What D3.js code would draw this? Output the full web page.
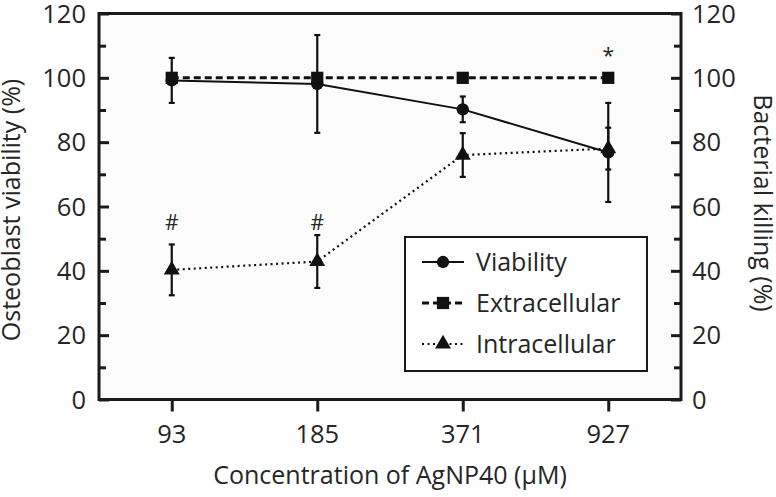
<!DOCTYPE html>
<html><head><meta charset="utf-8">
<script src="https://cdn.jsdelivr.net/npm/d3@7"></script>
<style>body{margin:0;background:#fff}svg{display:block}text{font-family:"Open Sans",sans-serif;fill:#262626}</style>
</head><body><svg id="c" width="776" height="497"></svg>
<script>
const categories = ["93","185","371","927"];
const viability = [99.2, 98.1, 90.2, 76.8];
const viabilityErr = [7.0, 15.2, 4.0, 15.4];
const extracellular = [100, 100, 100, 100];
const intracellular = [40.3, 42.9, 76.0, 78.0];
const intracellularErr = [7.9, 8.2, 6.8, 6.5];
const yTicks = [0,20,40,60,80,100,120];
const yMinorTicks = [10,30,50,70,90,110];
const annotations = [{cat:"93", v:55, t:"#"},{cat:"185", v:55, t:"#"},{cat:"927", v:107, t:"*"}];
const legendItems = ["Viability","Extracellular","Intracellular"];

const svg = d3.select("#c");
const L=99, R=681, T=13.5, B=399.5;
const x = d3.scalePoint().domain(categories).range([L,R]).padding(0.5);
const y = d3.scaleLinear().domain([0,120]).range([B,T]);
const y2 = d3.scaleLinear().domain([0,120]).range([B,T]);

svg.append("rect").attr("x",L).attr("y",T).attr("width",R-L).attr("height",B-T).attr("fill","#fcfcfc");

// axes
const gl = svg.append("g").attr("transform",`translate(${L},0)`)
  .call(d3.axisRight(y).tickValues(yTicks).tickSize(10).tickFormat(""));
gl.append("g").call(d3.axisRight(y).tickValues(yMinorTicks).tickSize(7).tickFormat(""));
const gr = svg.append("g").attr("transform",`translate(${R},0)`)
  .call(d3.axisLeft(y2).tickValues(yTicks).tickSize(10).tickFormat(""));
gr.append("g").call(d3.axisLeft(y2).tickValues(yMinorTicks).tickSize(7).tickFormat(""));
const gb = svg.append("g").attr("transform",`translate(0,${B})`)
  .call(d3.axisBottom(x).tickSize(12).tickFormat(""));
svg.selectAll(".domain").remove();
svg.selectAll(".tick line").attr("stroke","#1a1a1a").attr("stroke-width",3);

// left / right tick labels
svg.append("g").selectAll("text").data(yTicks).join("text")
  .attr("x",86).attr("y",d=>y(d)).attr("dy","0.36em").attr("text-anchor","end")
  .attr("font-size",25.5).text(d=>d);
svg.append("g").selectAll("text").data(yTicks).join("text")
  .attr("x",692).attr("y",d=>y2(d)).attr("dy","0.36em").attr("text-anchor","start")
  .attr("font-size",25.5).text(d=>d);
svg.append("g").selectAll("text").data(categories).join("text")
  .attr("x",d=>x(d)).attr("y",434).attr("dy","0.36em").attr("text-anchor","middle")
  .attr("font-size",25.5).text(d=>d);

// frame
svg.append("rect").attr("x",L).attr("y",T).attr("width",R-L).attr("height",B-T)
  .attr("fill","none").attr("stroke","#1a1a1a").attr("stroke-width",3);

// titles
svg.append("text").attr("transform",`translate(20,210) rotate(-90)`).attr("text-anchor","middle")
  .attr("font-size",25).text("Osteoblast viability (%)");
svg.append("text").attr("transform",`translate(754,203) rotate(90)`).attr("text-anchor","middle")
  .attr("font-size",25).text("Bacterial killing (%)");
svg.append("text").attr("x",390).attr("y",484).attr("text-anchor","middle")
  .attr("font-size",25).text("Concentration of AgNP40 (\u00B5M)");

const ink="#111";
// error bars
function errBars(vals, errs){
  const g = svg.append("g").attr("stroke",ink).attr("stroke-width",2.2);
  categories.forEach((c,i)=>{
    const cx=x(c), y1=y(vals[i]+errs[i]), y0=y(vals[i]-errs[i]);
    g.append("line").attr("x1",cx).attr("x2",cx).attr("y1",y1).attr("y2",y0);
    g.append("line").attr("x1",cx-3).attr("x2",cx+3).attr("y1",y1).attr("y2",y1);
    g.append("line").attr("x1",cx-3).attr("x2",cx+3).attr("y1",y0).attr("y2",y0);
  });
}
errBars(viability, viabilityErr);
errBars(intracellular, intracellularErr);

const line = d3.line().x((d,i)=>x(categories[i])).y(d=>y(d));
svg.append("path").datum(intracellular).attr("d",line).attr("fill","none").attr("stroke",ink)
  .attr("stroke-width",2.2).attr("stroke-dasharray","2,3.5");
svg.append("path").datum(viability).attr("d",line).attr("fill","none").attr("stroke",ink).attr("stroke-width",2);
svg.append("path").datum(extracellular).attr("d",line).attr("fill","none").attr("stroke",ink)
  .attr("stroke-width",3).attr("stroke-dasharray","7,4");

const sym = (type,size)=>d3.symbol().type(type).size(size)();
svg.append("g").selectAll("path").data(intracellular).join("path")
  .attr("transform",(d,i)=>`translate(${x(categories[i])},${y(d)})`).attr("d",sym(d3.symbolTriangle,110)).attr("fill",ink);
svg.append("g").selectAll("path").data(viability).join("path")
  .attr("transform",(d,i)=>`translate(${x(categories[i])},${y(d)})`).attr("d",sym(d3.symbolCircle,120)).attr("fill",ink);
svg.append("g").selectAll("path").data(extracellular).join("path")
  .attr("transform",(d,i)=>`translate(${x(categories[i])},${y(d)})`).attr("d",sym(d3.symbolSquare,150)).attr("fill",ink);

// annotations
svg.append("g").selectAll("text").data(annotations).join("text")
  .attr("x",d=>x(d.cat)).attr("y",d=>y(d.v)).attr("dy","0.36em").attr("text-anchor","middle")
  .attr("font-size",21).text(d=>d.t);

// legend
const lg = svg.append("g");
lg.append("rect").attr("x",405).attr("y",237).attr("width",242).attr("height",134)
  .attr("fill","#fff").attr("stroke","#1a1a1a").attr("stroke-width",2);
const rowsY=[262,303,344];
const dashes=[null,"7,4","2,3.5"];
const widths=[2,3,2.2];
const syms=[[d3.symbolCircle,120],[d3.symbolSquare,150],[d3.symbolTriangle,110]];
legendItems.forEach((name,i)=>{
  const l=lg.append("line").attr("x1",422).attr("x2",464).attr("y1",rowsY[i]).attr("y2",rowsY[i])
    .attr("stroke",ink).attr("stroke-width",widths[i]);
  if(dashes[i]) l.attr("stroke-dasharray",dashes[i]);
  lg.append("path").attr("transform",`translate(443,${rowsY[i]})`).attr("d",sym(syms[i][0],syms[i][1])).attr("fill",ink);
  lg.append("text").attr("x",476).attr("y",rowsY[i]).attr("dy","0.36em").attr("font-size",25).text(name);
});
</script></body></html>
